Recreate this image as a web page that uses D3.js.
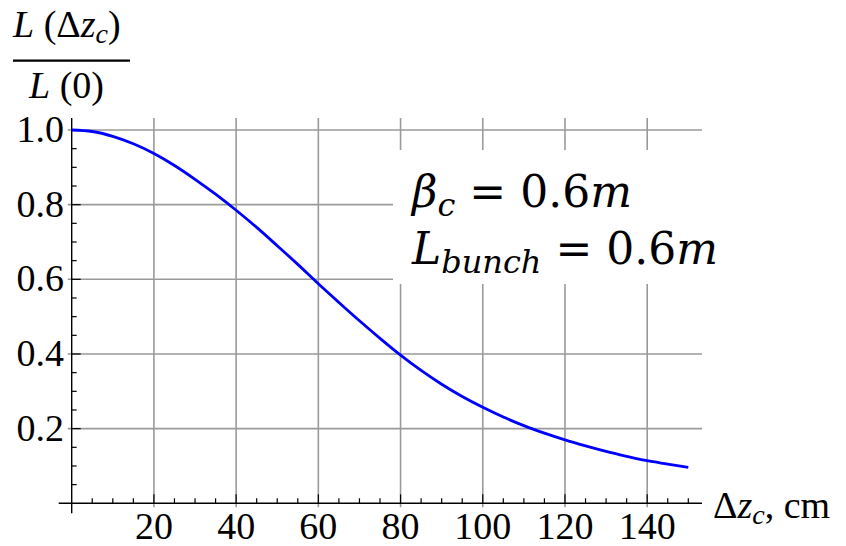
<!DOCTYPE html>
<html>
<head>
<meta charset="utf-8">
<script src="https://cdn.jsdelivr.net/npm/d3@7"></script>
<style>
  html, body { margin: 0; padding: 0; background: #fff; }
  svg { display: block; }
  .tick-label { font-family: "Liberation Serif", "Times New Roman", serif; font-size: 38px; fill: #000; }
  .math { font-family: "DejaVu Serif", "Liberation Serif", serif; fill: #000; }
</style>
</head>
<body>
<svg id="chart" width="846" height="546"></svg>
<script>
// Luminosity ratio L(Δz_c)/L(0) versus crab-cavity displacement Δz_c (cm), sampled every 5 cm
const dzCm = [0, 5, 10, 15, 20, 25, 30, 35, 40, 45, 50, 55, 60, 65, 70, 75,
              80, 85, 90, 95, 100, 105, 110, 115, 120, 125, 130, 135, 140, 145, 150];
const lumRatio = [1.000, 0.996, 0.983, 0.963, 0.937, 0.905, 0.868, 0.828, 0.785, 0.739, 0.690, 0.640, 0.588, 0.538, 0.489, 0.442,
                  0.397, 0.356, 0.319, 0.286, 0.257, 0.231, 0.208, 0.188, 0.170, 0.154, 0.139, 0.126, 0.114, 0.105, 0.096];

const xTicks = [20, 40, 60, 80, 100, 120, 140];
const yTicks = [0.2, 0.4, 0.6, 0.8, 1.0];
const xMinorTicks = d3.range(5, 151, 5).filter(v => v % 20 !== 0);
const yMinorTicks = d3.range(0.05, 1.01, 0.05).map(v => +v.toFixed(2)).filter(v => Math.round(v * 100) % 20 !== 0);

const svg = d3.select("#chart");

const x = d3.scaleLinear().domain([0, 150]).range([71.7, 688.3]);
const y = d3.scaleLinear().domain([0, 1]).range([503.3, 130]);

const xEnd = x.invert(702);
const yTop = y.invert(118);

const gridColor = "#9a9a9a";

// grid lines
svg.append("g").selectAll("line").data(xTicks).join("line")
  .attr("x1", d => x(d)).attr("x2", d => x(d))
  .attr("y1", y(yTop)).attr("y2", y(0) + 4)
  .attr("stroke", gridColor).attr("stroke-width", 1.6);
svg.append("g").selectAll("line").data(yTicks).join("line")
  .attr("x1", x(0) - 4).attr("x2", x(xEnd))
  .attr("y1", d => y(d)).attr("y2", d => y(d))
  .attr("stroke", gridColor).attr("stroke-width", 1.6);

// axes lines
svg.append("line")
  .attr("x1", x(0)).attr("x2", x(0))
  .attr("y1", y(yTop)).attr("y2", y(0) + 10)
  .attr("stroke", "#000").attr("stroke-width", 1.4);
svg.append("line")
  .attr("x1", x(0) - 13).attr("x2", x(xEnd))
  .attr("y1", y(0)).attr("y2", y(0))
  .attr("stroke", "#000").attr("stroke-width", 1.4);

// minor ticks
svg.append("g").selectAll("line").data(xMinorTicks).join("line")
  .attr("x1", d => x(d)).attr("x2", d => x(d))
  .attr("y1", y(0)).attr("y2", y(0) - 5)
  .attr("stroke", "#000").attr("stroke-width", 1.2);
svg.append("g").selectAll("line").data(yMinorTicks).join("line")
  .attr("x1", x(0)).attr("x2", x(0) + 5)
  .attr("y1", d => y(d)).attr("y2", d => y(d))
  .attr("stroke", "#000").attr("stroke-width", 1.2);

// major ticks
svg.append("g").selectAll("line").data(xTicks).join("line")
  .attr("x1", d => x(d)).attr("x2", d => x(d))
  .attr("y1", y(0)).attr("y2", y(0) - 9)
  .attr("stroke", "#000").attr("stroke-width", 1.2);
svg.append("g").selectAll("line").data(yTicks).join("line")
  .attr("x1", x(0)).attr("x2", x(0) + 9)
  .attr("y1", d => y(d)).attr("y2", d => y(d))
  .attr("stroke", "#000").attr("stroke-width", 1.2);

// tick labels
svg.append("g").selectAll("text").data(xTicks).join("text")
  .attr("class", "tick-label")
  .attr("x", d => x(d)).attr("y", 539)
  .attr("text-anchor", "middle")
  .text(d => d);
svg.append("g").selectAll("text").data(yTicks).join("text")
  .attr("class", "tick-label")
  .attr("x", 64).attr("y", d => y(d) + 12)
  .attr("text-anchor", "end")
  .text(d => d.toFixed(1));

// curve
const line = d3.line()
  .x((d, i) => x(dzCm[i]))
  .y(d => y(d))
  .curve(d3.curveMonotoneX);
svg.append("path")
  .datum(lumRatio)
  .attr("d", line)
  .attr("fill", "none")
  .attr("stroke", "#0000ff")
  .attr("stroke-width", 2.8);

// x axis label: Δz_c, cm
const xl = svg.append("text").attr("class", "tick-label").attr("x", 713).attr("y", 518);
xl.append("tspan").text("Δ");
xl.append("tspan").attr("font-style", "italic").text("z");
xl.append("tspan").attr("font-style", "italic").attr("font-size", "28px").attr("dy", 6).text("c");
xl.append("tspan").attr("dy", -6).text(", cm");

// y axis label: fraction L(Δz_c)/L(0)
const num = svg.append("text").attr("class", "tick-label").attr("font-size", "39px").attr("x", 13).attr("y", 37);
num.append("tspan").attr("font-style", "italic").text("L");
num.append("tspan").text(" (Δ");
num.append("tspan").attr("font-style", "italic").text("z");
num.append("tspan").attr("font-style", "italic").attr("font-size", "28px").attr("dy", 6).text("c");
num.append("tspan").attr("dy", -6).text(")");
svg.append("line")
  .attr("x1", 13).attr("x2", 130).attr("y1", 60.7).attr("y2", 60.7)
  .attr("stroke", "#000").attr("stroke-width", 2.2);
const den = svg.append("text").attr("class", "tick-label").attr("font-size", "39px").attr("x", 29).attr("y", 98);
den.append("tspan").attr("font-style", "italic").text("L");
den.append("tspan").text(" (0)");

// parameter annotation on a white panel
svg.append("rect")
  .attr("x", 393).attr("y", 150).attr("width", 453).attr("height", 134)
  .attr("fill", "#fff");

const t1 = svg.append("text").attr("class", "math").attr("font-size", "44px").attr("x", 412).attr("y", 207);
t1.append("tspan").attr("font-style", "italic").text("β");
t1.append("tspan").attr("font-style", "italic").attr("font-size", "32px").attr("dy", 9).text("c");
t1.append("tspan").attr("dy", -9).text(" = 0.6");
t1.append("tspan").attr("font-style", "italic").text("m");

const t2 = svg.append("text").attr("class", "math").attr("font-size", "44px").attr("x", 412).attr("y", 264);
t2.append("tspan").attr("font-style", "italic").text("L");
t2.append("tspan").attr("font-style", "italic").attr("font-size", "32px").attr("dy", 9).text("bunch");
t2.append("tspan").attr("dy", -9).text(" = 0.6");
t2.append("tspan").attr("font-style", "italic").text("m");
</script>
</body>
</html>
